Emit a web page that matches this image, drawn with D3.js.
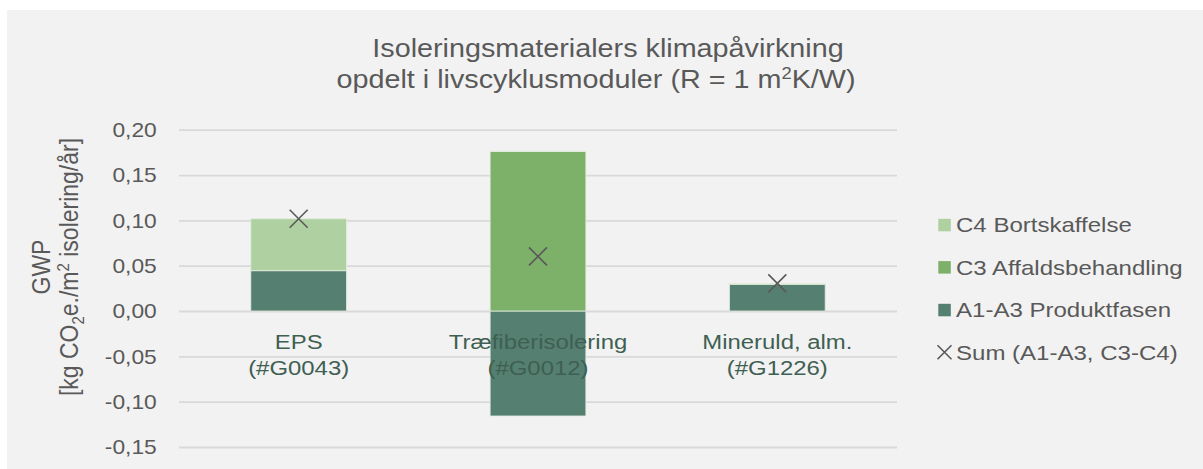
<!DOCTYPE html>
<html>
<head>
<meta charset="utf-8">
<script src="https://cdn.jsdelivr.net/npm/d3@7"></script>
<style>
  html, body { margin: 0; padding: 0; background: #ffffff; }
  svg { display: block; font-family: "Liberation Sans", Arial, sans-serif; }
</style>
</head>
<body>
<div id="chart"></div>
<script>
// data
const categories = ["EPS", "Træfiberisolering", "Mineruld, alm."];
const codes = ["(#G0043)", "(#G0012)", "(#G1226)"];
const a1a3 = [0.0445, -0.1158, 0.0295];
const c3 = [0, 0.1761, 0.0006];
const c4 = [0.0573, 0.0002, 0.0004];
const sums = [0.1018, 0.0602, 0.0305];
const yTicks = [-0.15, -0.10, -0.05, 0, 0.05, 0.10, 0.15, 0.20];

const seriesKeys = ["a1a3", "c3", "c4"];
const seriesColors = { a1a3: "#557f71", c3: "#7db169", c4: "#afd1a2" };
const legendItems = [
  { key: "c4", label: "C4 Bortskaffelse" },
  { key: "c3", label: "C3 Affaldsbehandling" },
  { key: "a1a3", label: "A1-A3 Produktfasen" },
  { key: "sum", label: "Sum (A1-A3, C3-C4)" }
];

const W = 1203, H = 469;
const SX = 1.15;            // text in the reference is a bit wider than tall
const px = v => v / SX;     // page pixels -> viewBox units
const grey = "#595959";

const svg = d3.select("#chart")
  .append("svg")
    .attr("width", W)
    .attr("height", H)
    .attr("viewBox", `0 0 ${px(W)} ${H}`)
    .attr("preserveAspectRatio", "none");

svg.append("rect")
  .attr("x", px(7)).attr("y", 10)
  .attr("width", px(W - 7)).attr("height", H - 10)
  .attr("fill", "#f2f2f2");

const rows = categories.map((c, i) => ({ cat: c, a1a3: a1a3[i], c3: c3[i], c4: c4[i] }));

const x = d3.scaleBand()
  .domain(categories)
  .range([px(179), px(897)])
  .paddingInner(0.6)
  .paddingOuter(0.3);

const y = d3.scaleLinear()
  .domain([-0.15, 0.20])
  .range([447, 129.7]);

const fmt = v => d3.format(".2f")(v).replace(".", ",").replace("−", "-");

// gridlines + tick labels
const yAxis = svg.append("g")
  .call(d3.axisLeft(y).tickValues(yTicks).tickSize(-(px(897) - px(179))).tickFormat(fmt))
  .attr("transform", `translate(${px(179)},0)`);
yAxis.select(".domain").remove();
yAxis.selectAll(".tick line")
  .attr("stroke", "#d9d9d9")
  .attr("stroke-width", 1.8)
  .attr("vector-effect", "non-scaling-stroke");
yAxis.selectAll(".tick text")
  .attr("x", px(156.7) - px(179))
  .attr("dy", "0.35em")
  .attr("fill", grey)
  .style("font-size", "19.8px")
  .style("font-family", "'Liberation Sans', Arial, sans-serif");

// stacked bars
const stack = d3.stack().keys(seriesKeys).offset(d3.stackOffsetDiverging);
const stacked = stack(rows);

svg.append("g")
  .selectAll("g")
  .data(stacked)
  .join("g")
    .attr("fill", d => seriesColors[d.key])
  .selectAll("rect")
  .data(d => d)
  .join("rect")
    .attr("x", d => x(d.data.cat))
    .attr("width", x.bandwidth())
    .attr("y", d => y(Math.max(d[0], d[1])))
    .attr("height", d => Math.abs(y(d[0]) - y(d[1])))
    .attr("stroke", "#e4eee0")
    .attr("stroke-width", 0.8)
    .attr("vector-effect", "non-scaling-stroke");

// sum markers
const xMark = (cx, cy, h) => `M${cx - px(h)},${cy - h}L${cx + px(h)},${cy + h}M${cx - px(h)},${cy + h}L${cx + px(h)},${cy - h}`;
svg.append("g")
  .selectAll("path")
  .data(sums)
  .join("path")
    .attr("d", (d, i) => xMark(x(categories[i]) + x.bandwidth() / 2, y(d), 9))
    .attr("fill", "none")
    .attr("stroke", grey)
    .attr("stroke-width", 1.6)
    .attr("vector-effect", "non-scaling-stroke");

// category labels
const catText = svg.append("g")
  .selectAll("text")
  .data(categories)
  .join("text")
    .attr("text-anchor", "middle")
    .attr("fill", "#3f5f52")
    .style("font-size", "20.8px");
catText.append("tspan")
  .attr("x", d => x(d) + x.bandwidth() / 2)
  .attr("y", 349)
  .text(d => d);
catText.append("tspan")
  .attr("x", d => x(d) + x.bandwidth() / 2)
  .attr("y", 375.5)
  .text((d, i) => codes[i]);

// title
const title = svg.append("text")
  .attr("text-anchor", "middle")
  .attr("fill", grey)
  .style("font-size", "25px");
title.append("tspan").attr("x", px(608)).attr("y", 57.3)
  .text("Isoleringsmaterialers klimapåvirkning");
const t2 = title.append("tspan").attr("x", px(596)).attr("y", 88.3);
t2.append("tspan").text("opdelt i livscyklusmoduler (R = 1 m");
t2.append("tspan").attr("dy", -9).style("font-size", "16px").text("2");
t2.append("tspan").attr("dy", 9).text("K/W)");

// y axis title
const yt = svg.append("g")
  .attr("transform", `translate(${px(50)},267) rotate(-90)`);
const ytText = yt.append("text")
  .attr("text-anchor", "middle")
  .attr("fill", grey)
  .style("font-size", "23px");
ytText.append("tspan").attr("x", 0).attr("y", 0).text("GWP");
const l2 = ytText.append("tspan").attr("x", 0).attr("y", px(28.5));
l2.append("tspan").text("[kg CO");
l2.append("tspan").attr("dy", 5).style("font-size", "15px").text("2");
l2.append("tspan").attr("dy", -5).text("e./m");
l2.append("tspan").attr("dy", -8).style("font-size", "15px").text("2");
l2.append("tspan").attr("dy", 8).text(" isolering/år]");

// legend
const legendY = [225, 267.3, 310, 352.3];
const legend = svg.append("g")
  .selectAll("g")
  .data(legendItems)
  .join("g")
    .attr("transform", (d, i) => `translate(0,${legendY[i]})`);
legend.filter(d => d.key !== "sum")
  .append("rect")
    .attr("x", px(938.3))
    .attr("y", -6.2)
    .attr("width", px(12.5))
    .attr("height", 12.5)
    .attr("fill", d => seriesColors[d.key]);
legend.filter(d => d.key === "sum")
  .append("path")
    .attr("d", xMark(px(944.5), 0, 7))
    .attr("fill", "none")
    .attr("stroke", grey)
    .attr("stroke-width", 1.6)
    .attr("vector-effect", "non-scaling-stroke");
legend.append("text")
  .attr("x", px(956))
  .attr("dy", "0.35em")
  .attr("fill", grey)
  .style("font-size", "20.9px")
  .text(d => d.label);
</script>
</body>
</html>
